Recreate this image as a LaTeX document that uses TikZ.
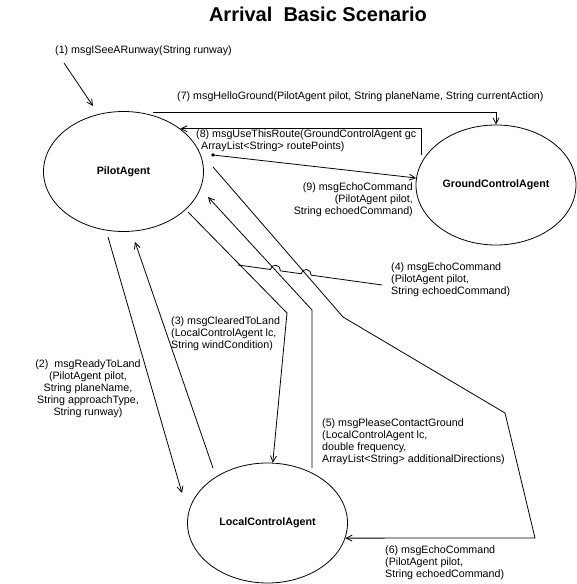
\documentclass[tikz,border=0pt]{standalone}
\usepackage{fontspec}
\setmainfont{Liberation Sans}
\usetikzlibrary{calc,arrows.meta,shapes.geometric}

\begin{document}
\begin{tikzpicture}[x=1pt, y=1pt,
		agent/.style={draw, ellipse, line width=0.8pt, minimum width=160pt, minimum height=120pt, inner sep=0pt, font=\fontsize{10.7}{12}\selectfont\bfseries},
		wire/.style={line width=0.8pt},
		msg/.style={wire, -{Straight Barb[length=6pt, width=6pt]}},
		lbl/.style={inner sep=0pt, font=\fontsize{10.7}{12}\selectfont}]
			%%%%% START %%%%%
			
			\useasboundingbox (0, 0) rectangle (576, 584);
			\node[font=\fontsize{20}{24}\selectfont\bfseries] (title) at (318, 570) {Arrival\ \ Basic Scenario};
			
			\node[agent] (pilot) at (123.5, 412.5) {PilotAgent};
			\node[agent] (ground) at (496, 399) {GroundControlAgent};
			\node[agent] (local) at (267.5, 61) {LocalControlAgent};
			
			% free ends and bends
			\coordinate (r1) at (64, 521);
			\coordinate (r1t) at (93, 478);
			\coordinate (s7) at (153, 472);
			\coordinate (g8) at (421, 429);
			\coordinate (d9) at (213, 429);
			\coordinate (a2) at (108, 347);
			\coordinate (a2t) at (182, 91);
			\coordinate (a3) at (213, 116);
			\coordinate (a3t) at (135, 342);
			\coordinate (l1a) at (188, 372);
			\coordinate (l1k) at (287, 271);
			\coordinate (l2a) at (312, 116);
			\coordinate (l2k) at (312, 274);
			\coordinate (l2t) at (208, 387);
			\coordinate (l3a) at (213, 417);
			\coordinate (l3k) at (343, 267);
			\coordinate (l3m) at (505, 171);
			\coordinate (l3c) at (535, 46);
			\coordinate (h4l) at (238, 319);
			\coordinate (h4r) at (382, 299);
			\coordinate (x2) at (intersection of h4l--h4r and l2k--l2t);
			\coordinate (x3) at (intersection of h4l--h4r and l3a--l3k);
			
			% messages
			\draw[msg] (r1) -- (r1t);
			\draw[msg] (s7) -| (ground.north);
			\draw[msg] (g8) |- (pilot.37);
			\fill (d9) circle (1.8pt);
			\draw[msg] (d9) -- (ground.175);
			\draw[msg] (a2) -- (a2t);
			\draw[msg] (a3) -- (a3t);
			\draw[msg] (l1a) -- (l1k) -- (local.85);
			\draw[msg] (l2a) -- (l2k) -- (l2t);
			\draw[msg] (l3a) -- (l3k) -- (l3m) -- (l3c) -- (local.-11);
			\draw[wire] (h4l) -- ($(x2)+(172.1:5pt)$) arc[start angle=172.1, end angle=-7.9, radius=5pt]
				-- ($(x3)+(172.1:5pt)$) arc[start angle=172.1, end angle=-7.9, radius=5pt] -- (h4r);
			
			% labels
			\node[lbl, anchor=west] (t1) at (55, 533) {(1) msgISeeARunway(String runway)};
			\node[lbl, anchor=west] (t7) at (177, 487) {(7) msgHelloGround(PilotAgent pilot, String planeName, String currentAction)};
			\node[lbl, anchor=west, align=left] (t8) at (196, 443) {(8) msgUseThisRoute(GroundControlAgent gc\\\hspace{5pt}ArrayList<String> routePoints)};
			\node[lbl, anchor=east, align=right] (t9) at (413, 384) {(9) msgEchoCommand\\(PilotAgent pilot,\\String echoedCommand)};
			\node[lbl, anchor=west, align=left] (t4) at (391, 304) {(4) msgEchoCommand\\(PilotAgent pilot,\\String echoedCommand)};
			\node[lbl, anchor=west, align=left] (t3) at (171, 250) {(3) msgClearedToLand\\(LocalControlAgent lc,\\String windCondition)};
			\node[lbl, align=center] (t2) at (88, 195) {(2)\ \ msgReadyToLand\\(PilotAgent pilot,\\String planeName,\\String approachType,\\String runway)};
			\node[lbl, anchor=west, align=left] (t5) at (322, 142.5) {(5) msgPleaseContactGround\\(LocalControlAgent lc,\\double frequency,\\ArrayList<String> additionalDirections)};
			\node[lbl, anchor=west, align=left] (t6) at (385, 21.5) {(6) msgEchoCommand\\(PilotAgent pilot,\\String echoedCommand)};
			
			%%%%% END %%%%%
		\end{tikzpicture}
\end{document}
